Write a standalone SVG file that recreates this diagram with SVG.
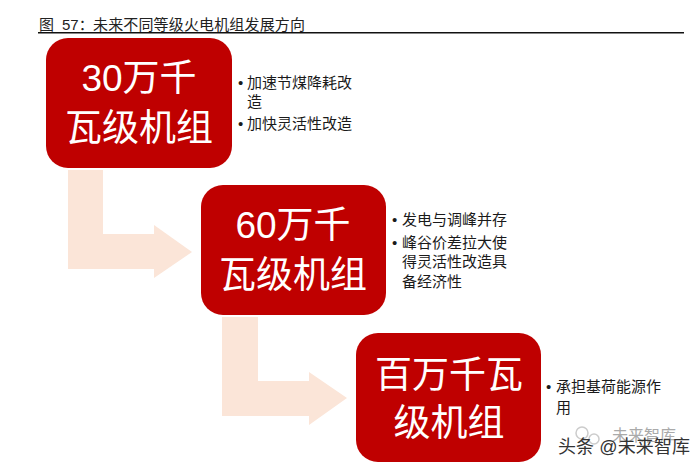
<svg xmlns="http://www.w3.org/2000/svg" width="700" height="470" viewBox="0 0 700 470">
<style>
text{font-family:"Liberation Sans","Noto Sans CJK SC",sans-serif}
.box{fill:#bf0000}
.arrow{fill:#fbe5d8}
.big{fill:#fff;font-size:37px;text-anchor:middle}
.item{fill:#1a1a1a;font-size:15px}
.title{fill:#222;font-size:15px}
</style>
<rect width="700" height="470" fill="#fff"/>
<g id="title">
<text class="title" x="39" y="30">图</text>
<text class="title" x="62" y="30">57：</text>
<text class="title" x="93" y="30" textLength="212">未来不同等级火电机组发展方向</text>
<rect x="38" y="32" width="646" height="1.5" fill="#111"/>
</g>
<g id="connectors">
<path class="arrow" d="M68 170H103V234H154V225L192 252L154 278V269H68Z"/>
<path class="arrow" d="M222 317H258V381H309V372L347 398L309 425V416H222Z"/>
</g>
<g id="node-30">
<rect class="box" x="46" y="38" width="186" height="130" rx="22"/>
<text class="big" x="139" y="91">30万千</text>
<text class="big" x="139" y="141">瓦级机组</text>
</g>
<g id="node-60">
<rect class="box" x="201" y="185" width="185" height="130" rx="22"/>
<text class="big" x="293" y="238">60万千</text>
<text class="big" x="293" y="288">瓦级机组</text>
</g>
<g id="node-100">
<rect class="box" x="356" y="333" width="185" height="129" rx="22"/>
<text class="big" x="449" y="388">百万千瓦</text>
<text class="big" x="449" y="436">级机组</text>
</g>
<g id="notes-30">
<text class="item" x="238" y="88">•</text><text class="item" x="247" y="88">加速节煤降耗改</text>
<text class="item" x="247" y="107">造</text>
<text class="item" x="238" y="129">•</text><text class="item" x="247" y="129">加快灵活性改造</text>
</g>
<g id="notes-60">
<text class="item" x="392" y="225">•</text><text class="item" x="402" y="225">发电与调峰并存</text>
<text class="item" x="392" y="248">•</text><text class="item" x="402" y="248">峰谷价差拉大使</text>
<text class="item" x="402" y="267">得灵活性改造具</text>
<text class="item" x="402" y="287">备经济性</text>
</g>
<g id="notes-100">
<text class="item" x="546" y="392">•</text><text class="item" x="556" y="392">承担基荷能源作</text>
<text class="item" x="556" y="413">用</text>
</g>
<g id="watermark">
<circle cx="582" cy="433" r="6" fill="none" stroke="#ccc" stroke-width="1.5"/>
<circle cx="594" cy="439" r="5" fill="none" stroke="#ccc" stroke-width="1.5"/>
<text x="612" y="441" font-size="16" fill="#aaa">未来智库</text>
<text x="558" y="453" font-size="18" fill="#333" textLength="132">头条 @未来智库</text>
</g>
</svg>
